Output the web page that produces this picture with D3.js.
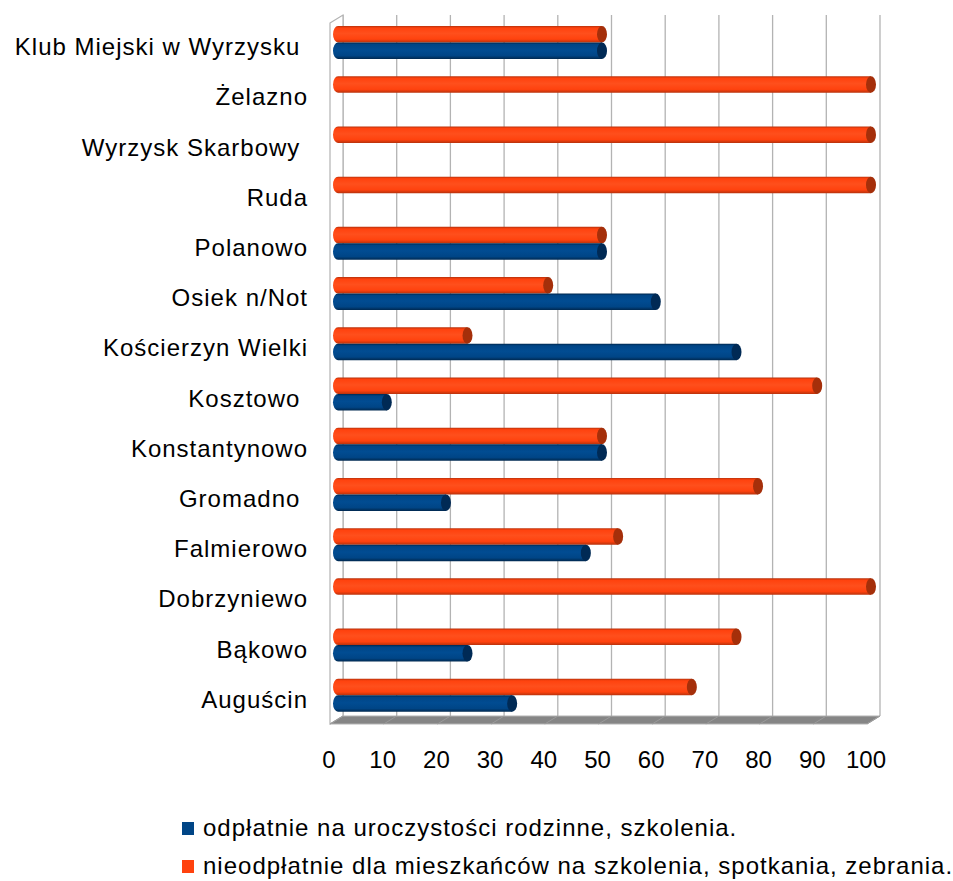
<!DOCTYPE html>
<html>
<head>
<meta charset="utf-8">
<script src="https://cdn.jsdelivr.net/npm/d3@7"></script>
<style>
  body { margin: 0; background: #fff; }
  svg text { font-family: "Liberation Sans", Arial, sans-serif; fill: #000; }
</style>
</head>
<body>
<svg id="chart"></svg>
<script>
// Data
const categories = ['Klub Miejski w Wyrzysku ', 'Żelazno', 'Wyrzysk Skarbowy ', 'Ruda', 'Polanowo',
  'Osiek n/Not', 'Kościerzyn Wielki', 'Kosztowo ', 'Konstantynowo', 'Gromadno ', 'Falmierowo',
  'Dobrzyniewo', 'Bąkowo', 'Auguścin'];
const paid = [50, 0, 0, 0, 50, 60, 75, 10, 50, 21, 47, 0, 25, 33.3];
const free = [50, 100, 100, 100, 50, 40, 25, 90, 50, 79, 53, 100, 75, 66.7];
const seriesNames = ['odpłatnie na uroczystości rodzinne, szkolenia.',
  'nieodpłatnie dla mieszkańców na szkolenia, spotkania, zebrania.'];
const ticks = [0, 10, 20, 30, 40, 50, 60, 70, 80, 90, 100];

const width = 953;
const height = 881;
const colors = { paid: '#004586', free: '#ff420e' };

const svg = d3.select('#chart')
  .attr('width', width)
  .attr('height', height);

// Gradients for the cylinders
const defs = svg.append('defs');
function cylGrad(id, dark, base, light) {
  const g = defs.append('linearGradient').attr('id', id)
    .attr('x1', 0).attr('y1', 0).attr('x2', 0).attr('y2', 1);
  [[0, dark], [0.12, base], [0.45, light], [0.8, base], [1, dark]]
    .forEach(s => g.append('stop').attr('offset', s[0]).attr('stop-color', s[1]));
}
cylGrad('gFree', '#b8320c', '#ff420e', '#ff4f1c');
cylGrad('gPaid', '#00284f', '#004586', '#014c92');

// Scales (back wall, front edge, bars)
const xBack = d3.scaleLinear().domain([0, 100]).range([343, 880]);
const xFront = d3.scaleLinear().domain([0, 100]).range([330, 867]);
const xBar = d3.scaleLinear().domain([0, 100]).range([333, 871]);
const y = d3.scaleBand().domain(categories).range([22, 725]).padding(0);

const wallTop = 15, wallBottom = 716, dx = 13, dy = 8;

// Back wall gridlines
svg.append('g').selectAll('line')
  .data(ticks)
  .enter().append('line')
  .attr('x1', d => xBack(d)).attr('x2', d => xBack(d))
  .attr('y1', wallTop).attr('y2', wallBottom)
  .attr('stroke', '#b3b3b3').attr('stroke-width', 1.3);

// Left side wall
svg.append('path')
  .attr('d', `M${xBack(0) - dx},${wallTop + dy} L${xBack(0)},${wallTop} L${xBack(0)},${wallBottom} L${xBack(0) - dx},${wallBottom + dy} Z`)
  .attr('fill', '#fff').attr('stroke', '#b3b3b3').attr('stroke-width', 1.2);

// Floor
svg.append('path')
  .attr('d', `M${xBack(0)},${wallBottom} L${xBack(100)},${wallBottom} L${xFront(100)},${wallBottom + dy} L${xFront(0)},${wallBottom + dy} Z`)
  .attr('fill', '#858585').attr('stroke', '#b3b3b3').attr('stroke-width', 1);
svg.append('g').selectAll('line')
  .data(ticks)
  .enter().append('line')
  .attr('x1', d => xBack(d)).attr('y1', wallBottom)
  .attr('x2', d => xFront(d)).attr('y2', wallBottom + dy)
  .attr('stroke', '#9a9a9a').attr('stroke-width', 1);

// Cylinder bars
function drawBars(values, key, offset) {
  const h = 16.5, r = h / 2, rx = 5;
  const g = svg.append('g');
  const bar = g.selectAll('g')
    .data(values.map((v, i) => ({ v, c: categories[i] })).filter(d => d.v > 0))
    .enter().append('g');
  bar.append('path')
    .attr('d', d => {
      const top = y(d.c) + offset, x0 = xBar(0) + rx, x1 = xBar(d.v);
      return `M${x0},${top} L${x1},${top} L${x1},${top + h} L${x0},${top + h} A${rx},${r} 0 0 1 ${x0},${top} Z`;
    })
    .attr('fill', key === 'free' ? 'url(#gFree)' : 'url(#gPaid)');
  bar.append('ellipse')
    .attr('cx', d => xBar(d.v))
    .attr('cy', d => y(d.c) + offset + r)
    .attr('rx', rx).attr('ry', r)
    .attr('fill', key === 'free' ? '#a52f0a' : '#002a55');
}
drawBars(free, 'free', 4);
drawBars(paid, 'paid', 20.5);

// Category labels
svg.append('g').selectAll('text')
  .data(categories)
  .enter().append('text')
  .attr('x', 308)
  .attr('y', d => y(d) + y.bandwidth() / 2 + 8)
  .attr('text-anchor', 'end')
  .style('white-space', 'pre')
  .style('letter-spacing', '1px')
  .attr('font-size', 24)
  .text(d => d);

// X tick labels
svg.append('g').selectAll('text')
  .data(ticks)
  .enter().append('text')
  .attr('x', d => xFront(d) - 1)
  .attr('y', 768)
  .attr('text-anchor', 'middle')
  .attr('font-size', 24)
  .text(d => d);

// Legend
const legend = svg.append('g').selectAll('g')
  .data(seriesNames)
  .enter().append('g')
  .attr('transform', (d, i) => `translate(182, ${822 + i * 38})`);
legend.append('rect')
  .attr('width', 12).attr('height', 13)
  .attr('fill', (d, i) => i === 0 ? colors.paid : colors.free);
legend.append('text')
  .attr('x', 21).attr('y', 14)
  .attr('font-size', 24)
  .style('letter-spacing', '1px')
  .text(d => d);
</script>
</body>
</html>
